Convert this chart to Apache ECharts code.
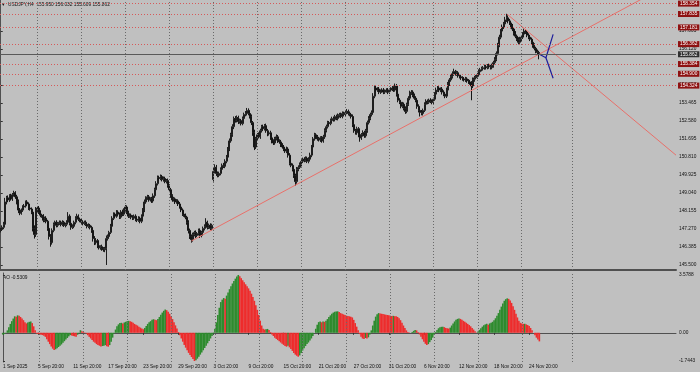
<!DOCTYPE html>
<html><head><meta charset="utf-8">
<script src="https://cdn.jsdelivr.net/npm/echarts@6/dist/echarts.min.js"></script>
<style>html,body{margin:0;padding:0;background:#c0c0c0}#c{width:700px;height:372px}</style>
</head><body><div id="c"></div>
<script>
// ---- DATA ----
const closes = [
147.25,147.35,147.5,148.6,148.8,148.7,148.9,148.75,148.95,149.05,
148.85,148.6,148.2,148.05,148.2,148.35,148.4,148.6,148.5,148.3,
148.25,148.1,147.3,147.0,148.2,148.3,148.1,147.95,147.9,147.7,
147.8,147.65,147.3,146.9,146.6,147.2,147.5,147.6,147.45,147.55,
147.6,147.5,147.6,147.45,147.5,147.6,147.9,147.55,147.35,147.4,
147.6,147.8,147.9,147.75,147.7,147.6,147.55,147.6,147.5,147.4,
147.45,147.35,147.2,146.8,146.6,146.7,146.45,146.35,146.4,146.3,
146.25,146.3,146.8,146.9,147.1,147.4,147.8,148.0,147.9,148.1,
148.0,147.85,148.1,148.0,148.2,148.35,148.1,147.9,147.95,147.85,
147.8,147.9,147.75,147.7,147.8,147.65,147.9,148.2,148.6,148.8,
148.85,148.7,148.75,148.65,148.9,149.2,149.5,149.8,149.75,149.85,
149.7,149.75,149.6,149.65,149.4,149.2,148.9,148.7,148.75,148.6,
148.65,148.5,148.35,148.2,148.0,147.95,147.85,147.6,147.2,146.9,
146.75,147.0,147.1,146.95,147.05,147.2,146.95,147.1,147.3,147.4,
147.6,147.35,147.45,147.3,147.45,150.1,150.3,150.0,149.9,150.0,
150.2,150.4,150.35,150.6,150.8,151.2,151.6,151.9,152.3,152.7,
152.6,152.75,152.55,152.6,152.45,152.7,152.9,152.95,153.1,152.95,
152.8,152.5,152.0,151.3,151.7,151.9,151.8,152.1,152.3,152.2,
152.35,152.1,151.95,152.0,151.75,151.6,151.5,151.7,151.8,151.6,
151.55,151.4,151.3,151.2,151.1,151.2,150.9,150.5,150.4,150.2,
149.9,149.6,150.2,150.3,150.45,150.6,150.7,150.65,150.75,150.6,
150.7,150.9,151.3,151.7,151.9,151.8,151.7,151.65,151.75,151.6,
151.8,152.1,152.3,152.5,152.45,152.6,152.7,152.65,152.8,152.7,
152.85,152.9,152.8,152.95,152.9,153.0,153.05,152.95,152.9,152.8,
152.4,152.1,152.0,152.2,151.9,151.75,151.9,152.0,151.85,152.1,
152.5,152.7,152.9,153.0,153.8,154.2,154.1,154.15,154.0,154.05,
154.1,154.0,154.05,154.1,154.0,154.1,154.15,154.2,154.1,154.3,
153.9,153.6,153.5,153.3,153.4,153.2,153.05,153.4,153.7,153.95,
154.0,153.85,153.7,153.6,153.3,153.1,153.0,152.95,153.1,153.4,
153.55,153.5,153.6,153.55,153.5,153.65,153.9,154.1,154.2,154.1,
154.15,154.0,153.9,153.8,154.1,154.4,154.6,154.75,154.9,155.0,
154.9,154.95,154.8,154.75,154.7,154.65,154.6,154.65,154.55,154.5,
154.45,154.3,154.6,154.7,154.75,154.85,155.0,155.1,155.15,155.2,
155.25,155.2,155.3,155.25,155.2,155.3,155.45,155.6,155.9,156.3,
156.7,157.0,157.2,157.35,157.55,157.65,157.5,157.4,157.25,157.1,
156.9,156.75,156.6,156.45,156.6,156.7,156.85,157.0,156.95,156.8,
156.7,156.6,156.45,156.3,156.15,156.0,155.95,155.862
];
const firstOpen = 147.2;
const gapOpens = {145: 149.7};
// wick lengths above / below the body, in hundredths of a yen
const upWick = [
8,10,12,20,10,12,8,10,9,10, 8,10,12,10,8,9,10,7,9,8, 10,8,12,15,15,8,10,9,7,10,
8,10,7,9,12,10,9,8,10,7, 9,8,10,7,8,10,20,9,8,10, 8,10,12,9,8,7,10,8,9,8,
10,7,8,9,12,10,8,9,7,10, 8,9,15,10,8,12,10,9,8,10, 9,8,10,12,9,10,8,7,9,8,
10,8,9,7,10,8,9,10,12,8, 10,9,8,10,12,10,12,10,9,10, 8,10,9,8,10,7,9,8,10,7,
9,8,10,7,8,9,8,7,10,9, 10,9,8,10,7,9,10,8,9,10, 20,8,9,10,8,20,15,12,10,9,
10,9,12,10,11,10,12,10,12,10, 12,10,9,10,8,10,9,12,12,10, 9,10,8,15,10,9,12,10,9,10,
8,10,9,8,10,9,8,10,12,9, 8,10,9,10,8,12,9,10,8,9, 10,9,12,10,9,10,8,10,9,8,
10,12,10,9,10,8,9,10,8,9, 10,12,10,9,8,10,9,10,8,9, 10,8,9,10,9,10,12,9,10,8,
10,12,9,10,8,10,9,12,10,9, 10,12,9,10,15,12,10,9,10,8, 9,10,8,9,10,8,9,10,9,12,
10,9,10,8,12,9,10,8,10,12, 10,9,8,10,9,10,8,12,9,10, 10,9,8,10,9,8,10,12,10,9,
8,10,9,10,12,10,9,10,12,15, 9,10,8,9,10,8,9,10,8,9, 10,9,12,10,9,10,12,9,10,8,
10,9,8,10,9,10,9,12,10,12, 12,10,12,10,15,20,12,10,9,10, 9,10,8,10,12,9,10,12,9,10,
9,10,8,9,10,8,9,8
];
const dnWick = [
10,8,9,10,12,9,10,8,10,9, 10,12,15,10,8,9,10,8,9,10, 8,10,15,20,12,10,9,10,8,10,
9,10,12,15,20,10,9,8,10,9, 8,10,9,8,10,9,8,10,12,8, 9,10,8,9,10,8,10,9,8,10,
9,10,12,15,12,10,12,9,10,10, 10,12,80,10,9,8,10,9,10,8, 10,9,8,10,9,8,10,9,8,10,
9,8,10,9,8,10,9,8,10,9, 10,9,8,10,9,10,8,9,10,8, 9,10,8,9,10,12,10,9,8,10,
9,10,8,10,9,8,10,12,15,12, 15,10,9,12,8,10,12,9,8,10, 9,10,8,9,10,10,10,12,9,8,
9,10,8,9,10,12,10,9,10,12, 10,9,12,10,9,8,10,9,10,9, 10,12,15,15,10,9,8,10,9,10,
9,10,12,9,10,12,10,9,8,10, 9,10,8,10,9,10,12,10,9,10, 12,20,10,9,8,10,9,10,8,9,
10,9,10,8,9,10,9,8,10,9, 9,10,8,9,10,8,9,10,9,8, 9,10,8,9,10,8,9,10,9,10,
12,10,9,10,12,19,10,9,10,9, 10,9,8,10,9,10,12,9,10,9, 8,10,9,8,10,9,8,10,9,8,
12,10,9,10,9,10,12,9,8,10, 9,10,8,10,12,10,20,9,10,8, 9,10,8,9,10,9,8,10,9,10,
10,12,10,10,9,8,10,9,8,10, 9,10,9,8,10,9,8,10,9,10, 9,70,10,9,8,10,9,10,8,9,
10,9,8,10,9,8,10,9,8,10, 9,10,8,10,9,10,12,10,12,10, 12,10,9,10,8,10,9,10,9,10,
10,9,10,12,10,9,10,25
];
const aoValues = [
-0.12,-0.08,-0.02,0.15,0.35,0.55,0.72,0.88,1.02,1.0,
1.08,1.05,0.98,0.88,0.78,0.66,0.58,0.63,0.68,0.7,
0.6,0.4,0.15,-0.05,-0.08,-0.1,-0.12,-0.14,-0.18,-0.25,
-0.4,-0.55,-0.7,-0.85,-0.98,-1.07,-1.02,-0.95,-0.88,-0.8,
-0.72,-0.62,-0.52,-0.42,-0.32,-0.22,-0.14,-0.17,-0.2,-0.22,
-0.25,-0.12,0.02,0.16,0.1,0.05,0.02,-0.05,-0.15,-0.25,
-0.35,-0.45,-0.55,-0.62,-0.7,-0.75,-0.8,-0.85,-0.82,-0.8,
-0.76,-0.83,-0.86,-0.76,-0.55,-0.3,-0.05,0.2,0.4,0.52,
0.6,0.62,0.58,0.64,0.68,0.72,0.74,0.72,0.68,0.62,
0.55,0.5,0.45,0.38,0.32,0.26,0.22,0.3,0.42,0.55,
0.65,0.72,0.8,0.84,0.8,0.78,0.85,0.98,1.12,1.25,
1.36,1.44,1.4,1.3,1.18,1.02,0.85,0.66,0.46,0.26,
0.05,-0.15,-0.35,-0.55,-0.75,-0.92,-1.08,-1.24,-1.38,-1.5,
-1.62,-1.7443,-1.7,-1.6,-1.48,-1.35,-1.22,-1.08,-0.94,-0.8,
-0.65,-0.5,-0.35,-0.2,-0.05,0.25,0.65,1.1,1.55,1.9,
2.05,2.15,2.1,2.3,2.5,2.7,2.88,3.05,3.2,3.35,
3.48,3.5788,3.5,3.38,3.25,3.12,3.0,2.88,2.75,2.6,
2.42,2.22,1.98,1.7,1.42,1.1,0.75,0.45,0.25,0.2,
0.22,0.24,0.18,0.05,-0.1,-0.2,-0.3,-0.38,-0.45,-0.52,
-0.6,-0.68,-0.75,-0.82,-0.86,-0.8,-0.9,-1.0,-1.12,-1.25,
-1.35,-1.42,-1.48,-1.4,-1.25,-1.1,-0.95,-0.82,-0.7,-0.6,
-0.48,-0.35,-0.2,0.0,0.25,0.5,0.66,0.7,0.65,0.7,
0.68,0.75,0.85,0.98,1.08,1.18,1.25,1.3,1.32,1.33,
1.28,1.22,1.18,1.14,1.1,1.06,1.04,1.02,1.0,0.95,
0.8,0.6,0.38,0.15,-0.08,-0.25,-0.35,-0.38,-0.32,-0.36,
-0.28,-0.1,0.15,0.45,0.75,1.0,1.15,1.22,1.2,1.18,
1.16,1.14,1.12,1.1,1.08,1.06,1.04,1.05,1.03,1.02,
0.98,0.9,0.78,0.62,0.45,0.3,0.15,0.05,0.02,0.0,
0.05,0.12,0.17,0.15,0.05,-0.1,-0.25,-0.4,-0.55,-0.68,
-0.76,-0.7,-0.58,-0.45,-0.3,-0.12,0.05,0.18,0.28,0.35,
0.37,0.38,0.35,0.3,0.28,0.26,0.32,0.45,0.58,0.7,
0.8,0.86,0.89,0.86,0.8,0.74,0.68,0.62,0.55,0.48,
0.4,0.3,0.2,0.1,0.02,0.08,0.18,0.28,0.38,0.46,
0.52,0.56,0.5,0.58,0.62,0.68,0.78,0.9,1.05,1.22,
1.42,1.62,1.82,1.98,2.08,2.13,2.1,2.0,1.85,1.65,
1.42,1.18,0.95,0.75,0.62,0.58,0.55,0.56,0.52,0.48,
0.42,0.3,0.15,0.0,-0.15,-0.3,-0.42,-0.5309
];
const timeLabels = ["1 Sep 2025","5 Sep 20:00","11 Sep 20:00","17 Sep 20:00","23 Sep 20:00","29 Sep 20:00","3 Oct 20:00","9 Oct 20:00","15 Oct 20:00","21 Oct 20:00","27 Oct 20:00","31 Oct 20:00","6 Nov 20:00","12 Nov 20:00","18 Nov 20:00","24 Nov 20:00"];
const priceTicks = [145.500,146.385,147.270,148.155,149.040,149.925,150.810,151.695,152.580,153.465,154.350,156.120,157.005];
const aoTicks = [3.5788, 0, -1.7443];
const levelPrices = [158.354,157.835,157.181,156.362,155.384,154.900,154.324];
const bidPrice = 155.862;
const trendUp = [[130,146.68],[460.5,159.48]];
const trendDown = [[346,157.79],[460.5,150.9]];
const blueA = [[367,155.87],[371.8,155.69],[376.7,156.84]];
const blueB = [[371.8,155.69],[376.7,154.68]];
const weekSeparators = [25,55,85,115,145,175,205,235,265,295,325,355,389.5];
const titleText = "USDJPY,H4  155.950 156.032 155.609 155.862";
const aoTitle = "AO -0.5309";
const TOTAL_SLOTS = 461;   // bars + right-side empty space

// ---- BUILD ----
const cats = Array.from({length: TOTAL_SLOTS}, (_, i) => 'b' + i);
const candles = closes.map((c, k) => {
  const o = k === 0 ? firstOpen : (gapOpens[k] !== undefined ? gapOpens[k] : closes[k - 1]);
  const h = Math.max(o, c) + upWick[k] / 100;
  const l = Math.min(o, c) - dnWick[k] / 100;
  return [o, c, l, h];
});
const rising = aoValues.map((v, k) => k === 0 || v > aoValues[k - 1]);
const aoUp = aoValues.map((v, k) => rising[k] ? v : '-');
const aoDown = aoValues.map((v, k) => rising[k] ? '-' : v);

const FONT = 'Liberation Sans';
const txt = {fontFamily: FONT, fontSize: 4.8, color: '#111'};
const sepStyle = {type: [1, 2], color: '#6a6a6a', width: 1};

const chart = echarts.init(document.getElementById('c'), null, {renderer: 'canvas'});
chart.setOption({
  animation: false,
  backgroundColor: '#c0c0c0',
  grid: [
    {left: 0, top: 0, width: 676, height: 270},
    {left: 0, top: 273, width: 676, height: 89}
  ],
  xAxis: [
    {type: 'category', gridIndex: 0, data: cats, boundaryGap: true,
     axisLine: {show: true, lineStyle: {color: '#505050', width: 2}},
     axisTick: {show: false}, axisLabel: {show: false}, splitLine: {show: false}},
    {type: 'category', gridIndex: 1, data: cats, boundaryGap: true,
     axisLine: {show: true, lineStyle: {color: '#505050', width: 1}},
     axisTick: {show: true, alignWithLabel: true, length: 2, interval: (i) => i % 24 === 0 && i / 24 < timeLabels.length, lineStyle: {color: '#303030'}},
     axisLabel: {show: true, interval: (i) => i % 24 === 0 && i / 24 < timeLabels.length,
       formatter: (v, i) => timeLabels[i / 24] || '', align: 'left', margin: 2.5, ...txt},
     splitLine: {show: false}},
    {type: 'value', gridIndex: 0, min: -0.5, max: TOTAL_SLOTS - 0.5, show: false},
    {type: 'value', gridIndex: 1, min: -0.5, max: TOTAL_SLOTS - 0.5, show: false}
  ],
  yAxis: [
    {type: 'value', gridIndex: 0, position: 'right', min: 145.254, max: 158.528, scale: true,
     axisLine: {show: true, lineStyle: {color: '#505050', width: 1}},
     axisTick: {show: true, length: 2, customValues: priceTicks, lineStyle: {color: '#303030'}},
     axisLabel: {show: true, customValues: priceTicks, formatter: v => v.toFixed(3), margin: 3, ...txt},
     splitLine: {show: false}},
    {type: 'value', gridIndex: 1, position: 'right', min: -1.807, max: 3.70,
     axisLine: {show: true, lineStyle: {color: '#505050', width: 1}},
     axisTick: {show: true, length: 2, customValues: aoTicks, lineStyle: {color: '#303030'}},
     axisLabel: {show: true, customValues: aoTicks, formatter: v => v === 0 ? '0.00' : v.toFixed(4), margin: 3, ...txt},
     splitLine: {show: false}}
  ],
  series: [
    {type: 'line', xAxisIndex: 2, yAxisIndex: 0, data: [], silent: true,
     markLine: {symbol: 'none', silent: true, label: {show: false}, lineStyle: sepStyle,
       data: weekSeparators.map(v => ({xAxis: v}))}},
    {type: 'line', xAxisIndex: 3, yAxisIndex: 1, data: [], silent: true,
     markLine: {symbol: 'none', silent: true, label: {show: false}, lineStyle: sepStyle,
       data: weekSeparators.map(v => ({xAxis: v}))}},
    {type: 'candlestick', xAxisIndex: 0, yAxisIndex: 0, data: candles, barWidth: 1.5,
     itemStyle: {color: '#9a9a9a', color0: '#151515', borderColor: '#1e1e1e', borderColor0: '#151515', borderWidth: 1},
     markLine: {symbol: 'none', silent: true, animation: false,
       data: levelPrices.map(p => ({yAxis: p,
         lineStyle: {type: [1, 2], color: '#d65a5a', width: 1},
         label: {show: true, position: 'end', distance: 2, formatter: p.toFixed(3),
           backgroundColor: '#8e1212', color: '#fff', padding: [0.5, 2, 0.5, 2], fontFamily: FONT, fontSize: 4.8}}))
         .concat([{yAxis: bidPrice, lineStyle: {type: 'solid', color: '#5a5a5a', width: 1},
           label: {show: true, position: 'end', distance: 2, formatter: bidPrice.toFixed(3),
             backgroundColor: '#303030', color: '#fff', padding: [0.5, 2, 0.5, 2], fontFamily: FONT, fontSize: 4.8}}])}},
    {type: 'line', xAxisIndex: 2, yAxisIndex: 0, data: trendUp, symbol: 'none', silent: true, clip: true,
     lineStyle: {color: '#e8706a', width: 1}},
    {type: 'line', xAxisIndex: 2, yAxisIndex: 0, data: trendDown, symbol: 'none', silent: true, clip: true,
     lineStyle: {color: '#e8706a', width: 1}},
    {type: 'line', xAxisIndex: 2, yAxisIndex: 0, data: blueA, symbol: 'none', silent: true,
     lineStyle: {color: '#1c1c9a', width: 1.2}},
    {type: 'line', xAxisIndex: 2, yAxisIndex: 0, data: blueB, symbol: 'none', silent: true,
     lineStyle: {color: '#1c1c9a', width: 1.2}},
    {type: 'bar', name: 'AO up', xAxisIndex: 1, yAxisIndex: 1, data: aoUp, barWidth: 1.6, barGap: '-100%', silent: true,
     itemStyle: {color: '#2e8b2e'}},
    {type: 'bar', name: 'AO down', xAxisIndex: 1, yAxisIndex: 1, data: aoDown, barWidth: 1.6, barGap: '-100%', silent: true,
     itemStyle: {color: '#ee2c2c'}}
  ],
  graphic: [
    {type: 'text', left: 2, top: 2, style: {text: '\u25BE', fontSize: 5, fill: '#111', fontFamily: FONT}},
    {type: 'text', left: 8, top: 2.5, style: {text: titleText, fontSize: 4.8, fill: '#111', fontFamily: FONT}},
    {type: 'text', left: 3, top: 275, style: {text: aoTitle, fontSize: 4.8, fill: '#111', fontFamily: FONT}}
  ]
});
</script></body></html>
